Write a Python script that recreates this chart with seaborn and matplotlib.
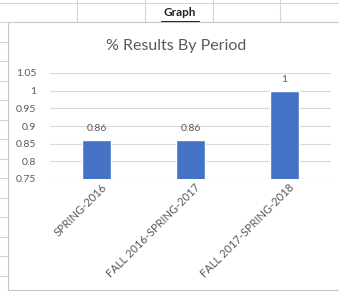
import matplotlib
matplotlib.use("Agg")
import matplotlib.pyplot as plt
import seaborn as sns
import pandas as pd
from matplotlib.lines import Line2D
from matplotlib.patches import Rectangle

categories = ["SPRING-2016", "FALL 2016-SPRING-2017", "FALL 2017-SPRING-2018"]
values = [0.86, 0.86, 1.0]
value_labels = ["0.86", "0.86", "1"]
yticks = [0.75, 0.8, 0.85, 0.9, 0.95, 1.0, 1.05]
ytick_labels = ["0.75", "0.8", "0.85", "0.9", "0.95", "1", "1.05"]
title = "% Results By Period"
header = "Graph"

sns.set_style("white")
plt.rcParams['font.family'] = ['Lato', 'DejaVu Sans']

W, H = 339, 292
fig = plt.figure(figsize=(W / 100, H / 100), dpi=100)
fig.patch.set_facecolor("white")

def fx(x):
    return x / W

def fy(y):
    return 1 - y / H

grid_c = "#d4d4d4"
# spreadsheet gridlines
for y in [3, 22, 42, 61, 81, 100, 120, 139, 159, 178, 198, 217, 237, 256, 276]:
    fig.add_artist(Line2D([0, 1], [fy(y), fy(y)], transform=fig.transFigure, color=grid_c, lw=0.8, zorder=0))
for x in [77, 145, 213, 280]:
    fig.add_artist(Line2D([fx(x), fx(x)], [fy(0), fy(22)], transform=fig.transFigure, color=grid_c, lw=0.8, zorder=0))

# chart area
fig.add_artist(Rectangle((fx(8), fy(290)), fx(339) - fx(8) + 0.01, fy(22) - fy(290),
                         transform=fig.transFigure, facecolor="white", edgecolor="#c8c8c8", lw=0.8, zorder=1))

fig.text(fx(180), fy(13), header, ha="center", va="center", fontsize=8.5, fontweight="bold",
         color="#222222", zorder=3)
fig.add_artist(Line2D([fx(161), fx(199)], [fy(20.5), fy(20.5)], transform=fig.transFigure, color="#222222", lw=0.7, zorder=3))

fig.text(fx(176), fy(46), title, ha="center", va="center", fontsize=11.5, color="#595959", zorder=3)

ax = fig.add_axes([fx(50), fy(179), fx(331) - fx(50), fy(73) - fy(179)])
ax.set_zorder(2)
ax.patch.set_alpha(0)

df = pd.DataFrame({"period": categories, "value": values})
sns.barplot(data=df, x="period", y="value", color="#4472C4", width=0.31, saturation=1, ax=ax, zorder=3)
ax.set_ylim(0.75, 1.05)
ax.set_yticks(yticks)
ax.set_yticklabels(ytick_labels)
ax.grid(axis="y", color="#d9d9d9", lw=0.8)
ax.set_axisbelow(True)
for s in ["top", "right", "left", "bottom"]:
    ax.spines[s].set_visible(False)
ax.tick_params(axis="both", length=0, colors="#595959")
ax.tick_params(axis="y", pad=10, labelsize=7.5)
ax.tick_params(axis="x", pad=2, labelsize=8)
ax.set_xlabel("")
ax.set_ylabel("")
plt.setp(ax.get_xticklabels(), rotation=45, ha="right", rotation_mode="anchor")
ax.set_xticks(range(len(categories)))
for lab in ax.get_xticklabels():
    lab.set_transform(lab.get_transform() + matplotlib.transforms.ScaledTranslation(4 / 100, 0, fig.dpi_scale_trans))

for i, (v, lab) in enumerate(zip(values, value_labels)):
    ax.annotate(lab, (i, v), xytext=(0, 5), textcoords="offset points", ha="center", va="bottom",
                fontsize=7.5, color="#595959")

fig.savefig("out.png", dpi=100)
